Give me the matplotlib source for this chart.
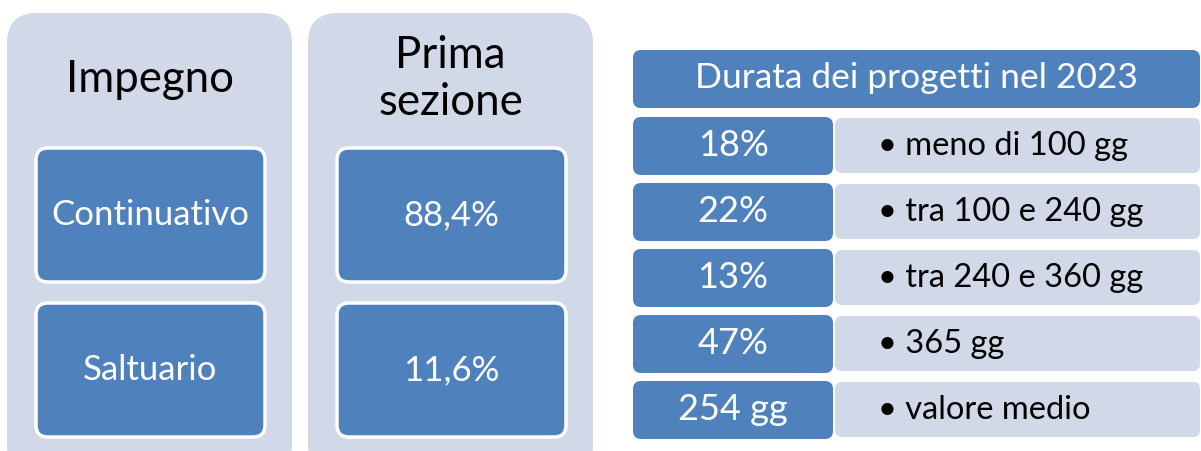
import matplotlib.pyplot as plt
from matplotlib.patches import FancyBboxPatch

plt.rcParams['font.family'] = ['Lato', 'DejaVu Sans']

# data
impegno_title = "Impegno"
impegno_labels = ["Continuativo", "Saltuario"]
sezione_title = "Prima\nsezione"
sezione_values = ["88,4%", "11,6%"]
durata_title = "Durata dei progetti nel 2023"
durata_values = ["18%", "22%", "13%", "47%", "254 gg"]
durata_labels = ["meno di 100 gg", "tra 100 e 240 gg", "tra 240 e 360 gg", "365 gg", "valore medio"]

blue = "#4f81bd"
light = "#d1d8e7"
W, H = 1201, 451

fig = plt.figure(figsize=(W / 100, H / 100), dpi=100)
ax = fig.add_axes([0, 0, 1, 1])
ax.set_xlim(0, W)
ax.set_ylim(H, 0)
ax.axis('off')


def box(x0, y0, x1, y1, color, r, ec='none', lw=0):
    p = FancyBboxPatch((x0 + r, y0 + r), (x1 - x0) - 2 * r, (y1 - y0) - 2 * r,
                       boxstyle="round,pad=%f,rounding_size=%f" % (r, r),
                       fc=color, ec=ec, lw=lw, mutation_aspect=1)
    ax.add_patch(p)


# two left panels
panels = [(7, 292, impegno_title, impegno_labels, 80),
          (308, 593, sezione_title, sezione_values, 79)]
for x0, x1, title, labels, ty in panels:
    box(x0, 13, x1, 475, light, 30)
    ax.text((x0 + x1) / 2, ty, title, ha='center', va='center', fontsize=31.5,
            color='black', linespacing=1.2)
    ix0, ix1 = x0 + 29, x1 - 27
    for i, lab in enumerate(labels):
        y0 = 148 + i * 155
        box(ix0, y0, ix1, y0 + 134, blue, 12, ec='white', lw=2.5)
        ax.text((ix0 + ix1) / 2, y0 + 67, lab, ha='center', va='center',
                fontsize=25, color='white')

# right table
box(633, 50, 1200, 108, blue, 8)
ax.text(916, 78, durata_title, ha='center', va='center', fontsize=25.5, color='white')
for i, (val, lab) in enumerate(zip(durata_values, durata_labels)):
    y0 = 117 + i * 66
    box(835, y0 + 1, 1200, y0 + 56, light, 7)
    box(633, y0, 833, y0 + 58, blue, 8)
    ax.text(733, y0 + 29, val, ha='center', va='center', fontsize=26, color='white')
    ax.text(878, y0 + 29, "\u2022 " + lab, ha='left', va='center', fontsize=23.5,
            color='black')

fig.savefig("out.png", dpi=100, facecolor='white')
